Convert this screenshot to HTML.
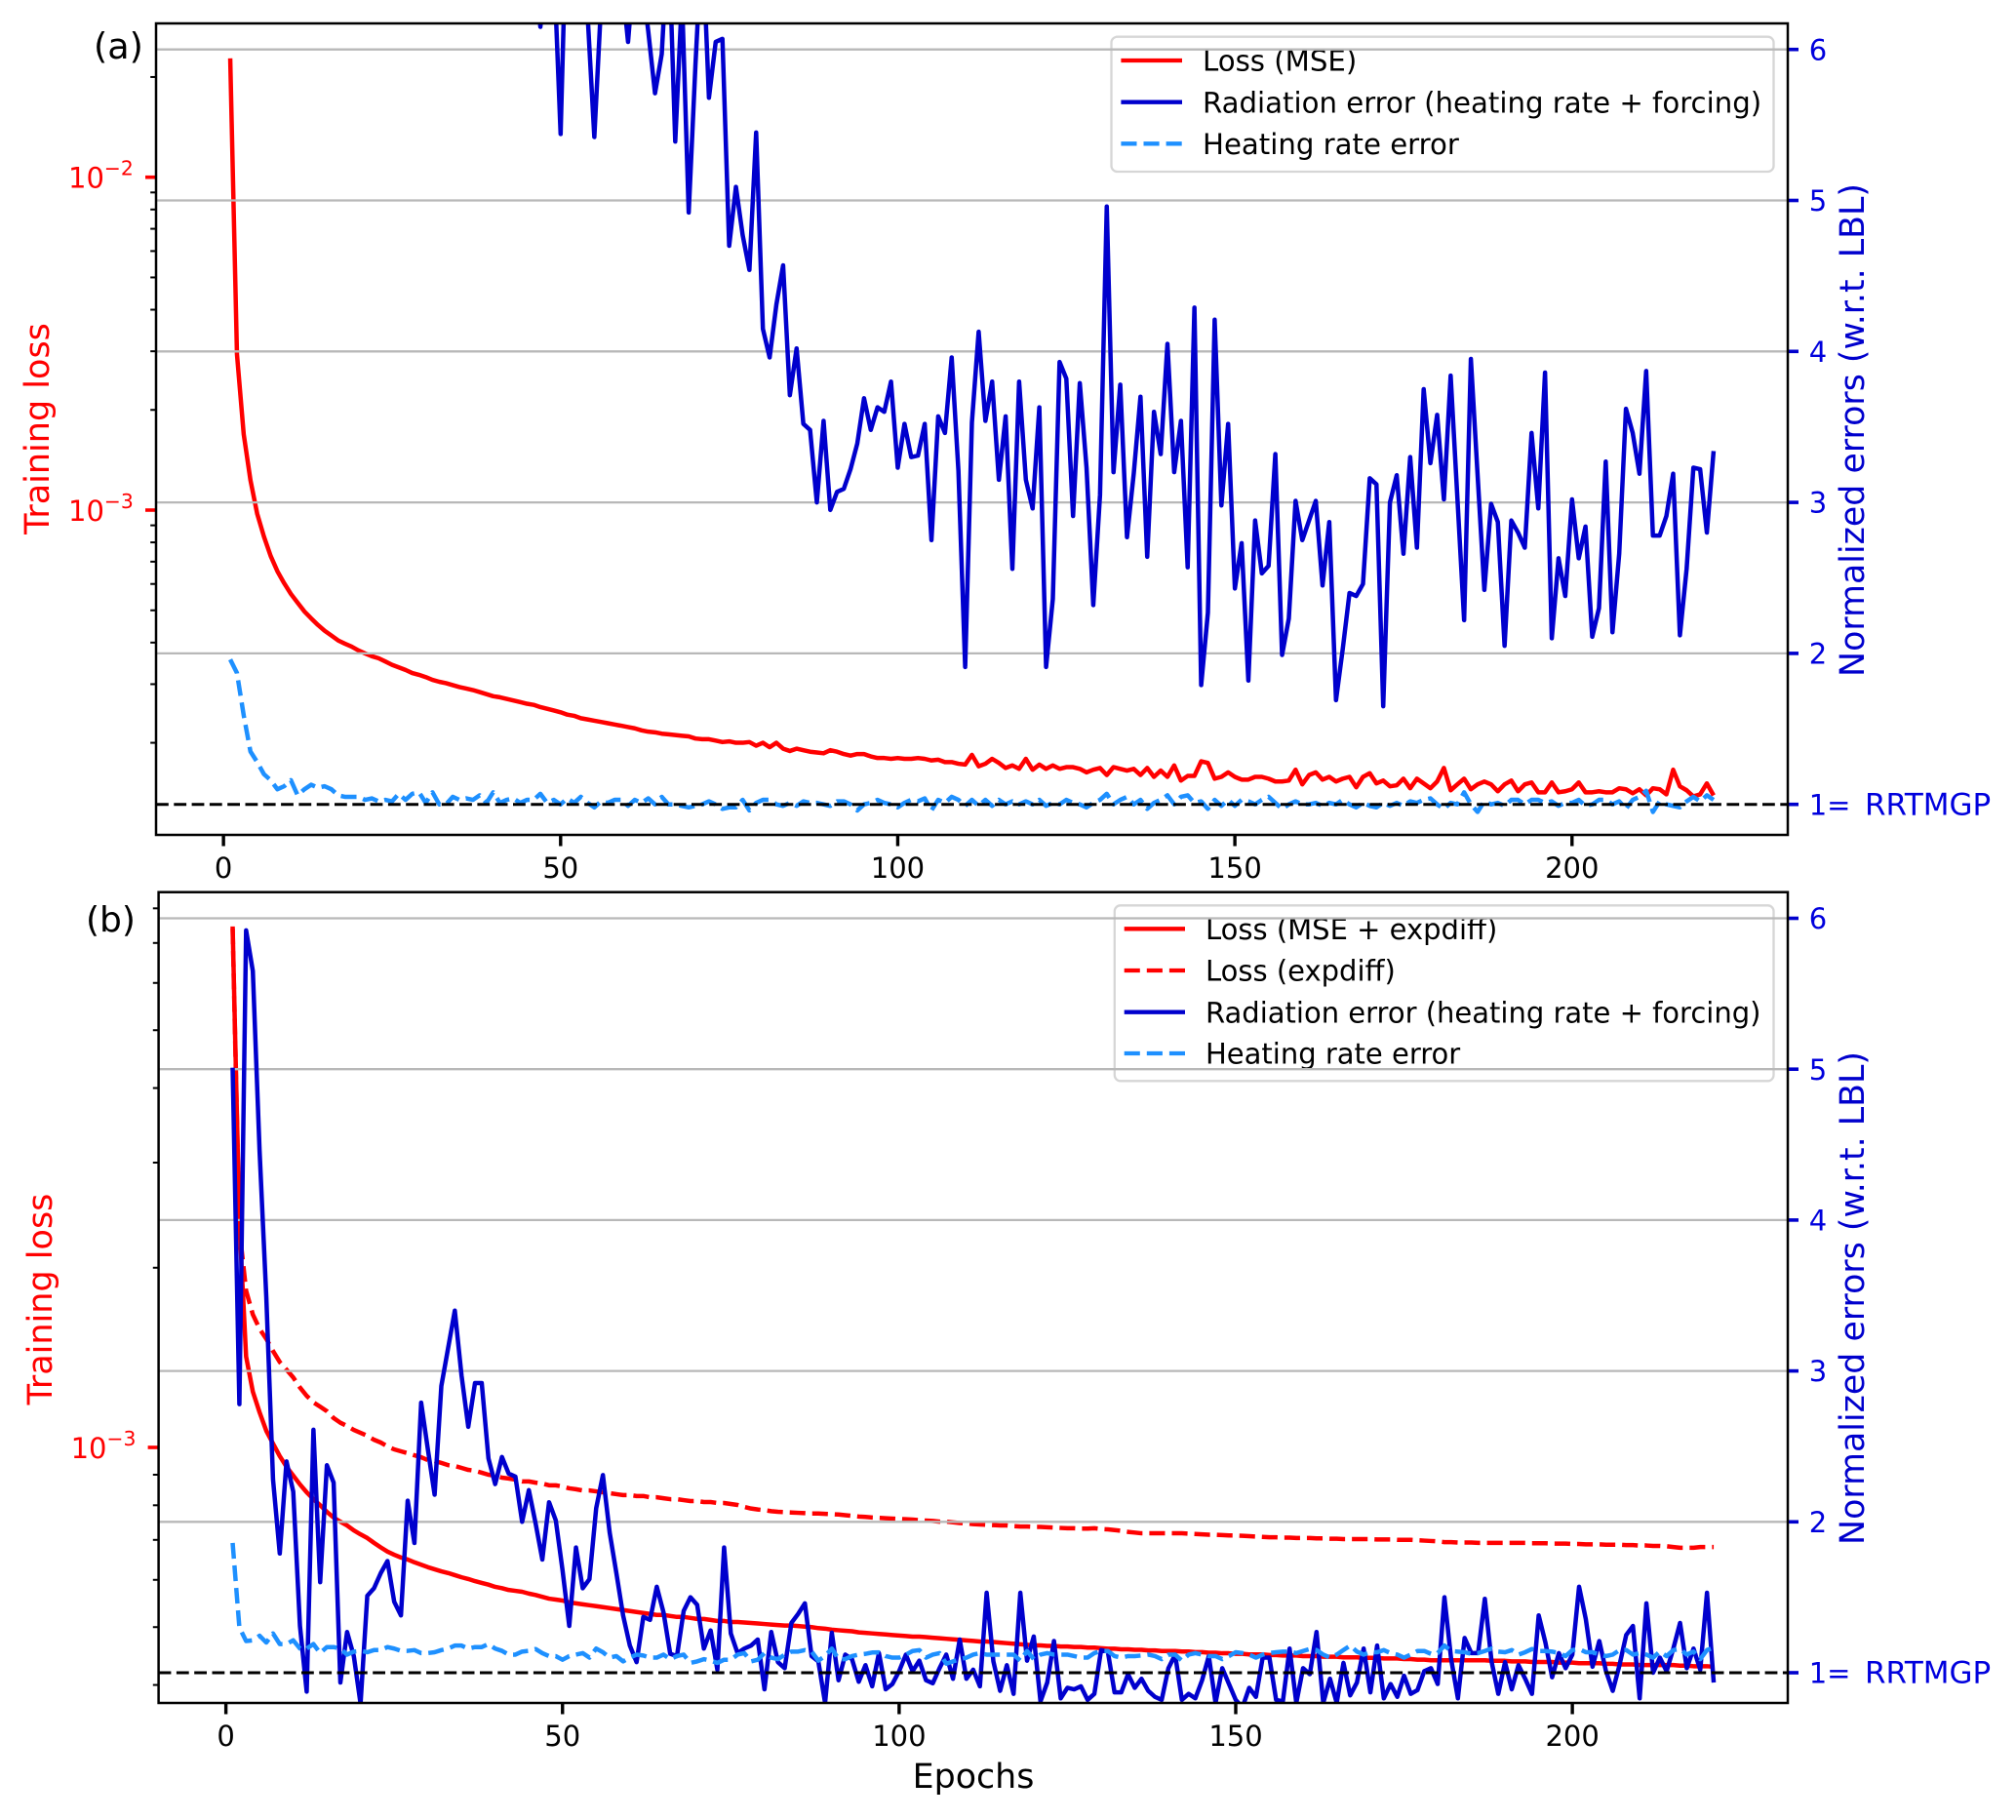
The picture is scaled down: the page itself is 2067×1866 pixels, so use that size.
<!DOCTYPE html>
<html lang="en">
<head>
<meta charset="utf-8">
<title>Training loss and normalized errors vs epochs</title>
<style>
  html, body { margin: 0; padding: 0; background: #ffffff; }
  svg { display: block; }
  text { font-family: "DejaVu Sans", "Liberation Sans", sans-serif; }
</style>
</head>
<body>
<svg id="figure" xmlns="http://www.w3.org/2000/svg" width="2067" height="1866" viewBox="0 0 2067 1866">
  <defs>
    <clipPath id="clip-a"><rect x="160" y="24" width="1673" height="832"/></clipPath>
    <clipPath id="clip-b"><rect x="162.6" y="914.7" width="1670.4" height="831.3"/></clipPath>
  </defs>
  <rect x="0" y="0" width="2067" height="1866" fill="#ffffff"/>

  <!-- Panel (a) -->
  <g id="panel-a">
    <g id="a-loss" clip-path="url(#clip-a)"></g>
    <g>
      <rect x="1139.5" y="37.7" width="679" height="138.3" rx="6" ry="6" fill="#ffffff" fill-opacity="0.8" stroke="#cccccc" stroke-opacity="0.8" stroke-width="2.3"/>
      <line x1="1149.4" x2="1212" y1="62" y2="62" stroke="#ff0000" stroke-width="4.35"/>
      <text x="1233" y="72.6" font-size="29.2" fill="#000000">Loss (MSE)</text>
      <line x1="1149.4" x2="1212" y1="104.7" y2="104.7" stroke="#0000cd" stroke-width="4.35"/>
      <text x="1233" y="115.3" font-size="29.2" fill="#000000">Radiation error (heating rate + forcing)</text>
      <line x1="1149.4" x2="1212" y1="147.3" y2="147.3" stroke="#1e90ff" stroke-width="4.35" stroke-dasharray="16.1 7"/>
      <text x="1233" y="158" font-size="29.2" fill="#000000">Heating rate error</text>
    </g>
    <g id="a-grid"></g>
    <g id="a-err" clip-path="url(#clip-a)"></g>
    <g id="a-axes"></g>
    <text x="96" y="60" font-size="36.5" fill="#000000">(a)</text>
    <text transform="translate(50 439.5) rotate(-90)" text-anchor="middle" font-size="35" fill="#ff0000">Training loss</text>
    <text transform="translate(1911 441) rotate(-90)" text-anchor="middle" font-size="34.8" fill="#0000cd">Normalized errors (w.r.t. LBL)</text>
  </g>

  <!-- Panel (b) -->
  <g id="panel-b">
    <g id="b-loss" clip-path="url(#clip-b)"></g>
    <g>
      <rect x="1142.8" y="928.3" width="675.7" height="180" rx="6" ry="6" fill="#ffffff" fill-opacity="0.8" stroke="#cccccc" stroke-opacity="0.8" stroke-width="2.3"/>
      <line x1="1152.7" x2="1215" y1="952.3" y2="952.3" stroke="#ff0000" stroke-width="4.35"/>
      <text x="1236" y="963" font-size="29" fill="#000000">Loss (MSE + expdiff)</text>
      <line x1="1152.7" x2="1215" y1="995" y2="995" stroke="#ff0000" stroke-width="4.35" stroke-dasharray="16.1 7"/>
      <text x="1236" y="1005.7" font-size="29" fill="#000000">Loss (expdiff)</text>
      <line x1="1152.7" x2="1215" y1="1037.7" y2="1037.7" stroke="#0000cd" stroke-width="4.35"/>
      <text x="1236" y="1048.3" font-size="29" fill="#000000">Radiation error (heating rate + forcing)</text>
      <line x1="1152.7" x2="1215" y1="1080" y2="1080" stroke="#1e90ff" stroke-width="4.35" stroke-dasharray="16.1 7"/>
      <text x="1236" y="1090.7" font-size="29" fill="#000000">Heating rate error</text>
    </g>
    <g id="b-grid"></g>
    <g id="b-err" clip-path="url(#clip-b)"></g>
    <g id="b-axes"></g>
    <text x="88" y="955" font-size="36" fill="#000000">(b)</text>
    <text transform="translate(53 1332) rotate(-90)" text-anchor="middle" font-size="35" fill="#ff0000">Training loss</text>
    <text transform="translate(1911 1331) rotate(-90)" text-anchor="middle" font-size="34.8" fill="#0000cd">Normalized errors (w.r.t. LBL)</text>
    <text x="998" y="1833" text-anchor="middle" font-size="34.8" fill="#000000">Epochs</text>
  </g>
</svg>

<script>
// ---------- Shared categories and tick labels ----------
const xTickValues = [0, 50, 100, 150, 200];
const rightTickValues = [1, 2, 3, 4, 5, 6];
const rightTickLabels = ['1= RRTMGP', '2', '3', '4', '5', '6'];
const referenceValue = [1];

// Log-axis ticks: majors are decade exponents; minors are raw loss values
const leftMajorExponentsA = [-3, -2];
const leftMinorValuesA = [2e-4, 3e-4, 4e-4, 5e-4, 6e-4, 7e-4, 8e-4, 9e-4, 2e-3, 3e-3, 4e-3, 5e-3, 6e-3, 7e-3, 8e-3, 9e-3, 2e-2];
const leftMajorExponentsB = [-3];
const leftMinorValuesB = [4e-4, 5e-4, 6e-4, 7e-4, 8e-4, 9e-4, 2e-3, 3e-3, 4e-3, 5e-3, 6e-3, 7e-3, 8e-3];

// ---------- Panel (a) series: epochs 1..221 ----------
// Loss (MSE), in units of 1e-4
const lossMseA = [
227.5,29.4,16.9,12.3,9.75,8.33,7.28,6.55,6.03,5.60,
5.27,4.96,4.73,4.52,4.34,4.20,4.06,3.97,3.89,3.79,
3.71,3.64,3.59,3.51,3.43,3.37,3.31,3.24,3.20,3.15,
3.09,3.05,3.02,2.98,2.94,2.91,2.88,2.84,2.80,2.76,
2.74,2.71,2.68,2.65,2.62,2.60,2.56,2.53,2.50,2.47,
2.43,2.41,2.37,2.35,2.33,2.31,2.29,2.27,2.25,2.23,
2.21,2.18,2.16,2.15,2.13,2.12,2.11,2.10,2.09,2.06,
2.05,2.05,2.03,2.01,2.02,2.00,2.00,2.01,1.96,2.00,
1.94,2.00,1.92,1.89,1.92,1.90,1.88,1.87,1.86,1.90,
1.88,1.85,1.83,1.85,1.85,1.82,1.80,1.80,1.79,1.80,
1.79,1.79,1.80,1.79,1.77,1.78,1.75,1.75,1.73,1.72,
1.84,1.70,1.73,1.79,1.74,1.68,1.71,1.67,1.79,1.66,
1.72,1.67,1.71,1.67,1.69,1.69,1.67,1.63,1.66,1.68,
1.60,1.69,1.67,1.65,1.67,1.60,1.68,1.58,1.65,1.58,
1.71,1.54,1.59,1.59,1.76,1.74,1.56,1.58,1.63,1.58,
1.55,1.55,1.58,1.58,1.56,1.53,1.53,1.54,1.66,1.50,
1.60,1.63,1.55,1.58,1.53,1.56,1.58,1.47,1.58,1.62,
1.51,1.54,1.48,1.49,1.56,1.46,1.56,1.51,1.46,1.53,
1.68,1.44,1.50,1.56,1.45,1.50,1.53,1.50,1.43,1.50,
1.54,1.43,1.50,1.52,1.42,1.42,1.52,1.42,1.43,1.45,
1.52,1.42,1.42,1.43,1.42,1.42,1.46,1.45,1.41,1.45,
1.39,1.46,1.45,1.40,1.66,1.48,1.44,1.38,1.40,1.51,1.39
];
// Radiation error (heating rate + forcing), normalized
const radiationErrorA = [
12.4,11.0,10.6,10.2,9.9,9.7,9.5,9.3,9.2,9.0,
8.9,8.8,8.7,8.6,8.5,8.4,8.3,8.2,8.1,8.0,
7.9,7.9,7.8,7.8,7.7,7.6,7.6,7.5,7.5,7.4,
7.4,7.3,7.3,7.2,7.2,7.1,7.1,7.0,7.0,6.9,
6.9,6.8,6.8,6.7,6.7,6.6,6.15,6.6,6.57,5.44,
7.1,6.9,6.6,6.23,5.42,6.3,6.6,6.7,6.5,6.05,
6.6,6.5,6.12,5.71,5.97,6.78,5.39,6.35,4.92,5.9,
6.77,5.68,6.05,6.07,4.70,5.09,4.77,4.54,5.45,4.15,
3.96,4.31,4.57,3.71,4.02,3.52,3.48,3.0,3.54,2.95,
3.07,3.09,3.22,3.39,3.69,3.48,3.63,3.60,3.80,3.23,
3.52,3.30,3.31,3.52,2.75,3.57,3.46,3.96,3.21,1.91,
3.53,4.13,3.54,3.80,3.15,3.57,2.56,3.80,3.15,2.96,
3.63,1.91,2.36,3.93,3.82,2.91,3.79,3.23,2.32,3.05,
4.96,3.20,3.78,2.77,3.19,3.70,2.64,3.60,3.32,4.05,
3.20,3.54,2.57,4.29,1.79,2.27,4.21,2.98,3.52,2.43,
2.73,1.82,2.88,2.53,2.58,3.32,1.99,2.23,3.01,2.75,
2.88,3.01,2.45,2.87,1.69,2.03,2.40,2.38,2.46,3.16,
3.12,1.65,3.0,3.18,2.66,3.30,2.70,3.75,3.26,3.58,
3.02,3.84,3.03,2.22,3.95,3.18,2.42,2.99,2.87,2.05,
2.88,2.80,2.70,3.46,2.96,3.86,2.10,2.63,2.38,3.02,
2.63,2.84,2.11,2.30,3.27,2.14,2.66,3.62,3.46,3.19,
3.87,2.78,2.78,2.91,3.19,2.12,2.56,3.23,3.22,2.80,3.34
];
// Heating rate error, normalized
const heatingErrorA = [
1.96,1.87,1.59,1.35,1.28,1.20,1.16,1.10,1.12,1.16,
1.06,1.10,1.13,1.11,1.12,1.10,1.06,1.05,1.05,1.05,
1.03,1.04,1.02,1.03,1.02,1.07,1.03,1.07,1.08,1.01,
1.08,1.0,1.0,1.05,1.03,1.04,1.03,1.06,1.01,1.08,
1.01,1.03,1.04,1.01,1.03,1.03,1.07,1.01,1.03,1.0,
1.04,1.01,1.05,1.01,.98,1.02,1.01,1.03,1.03,.99,
1.03,1.01,1.04,1.0,1.05,1.0,1.0,.99,.98,.99,
1.0,1.02,1.0,.97,.98,.98,1.03,.96,1.01,1.03,
1.03,1.0,.99,1.01,.99,1.02,1.01,1.01,1.0,.99,
1.02,1.02,1.0,.96,1.0,1.01,1.03,1.01,1.0,.98,
1.01,1.03,1.02,1.04,.96,1.03,1.01,1.05,1.03,.99,
1.03,.99,1.03,.99,1.03,1.0,1.02,1.0,1.02,1.0,
1.03,.99,1.01,1.0,1.03,1.01,1.0,.98,1.01,1.03,
1.07,1.0,1.03,1.05,1.0,1.03,.97,1.01,1.03,1.06,
1.0,1.05,1.06,1.01,1.02,.97,1.03,.99,1.03,.99,
1.03,1.02,1.0,1.03,1.05,1.01,.97,1.0,1.02,1.0,
1.0,1.01,.99,1.01,1.0,1.03,1.0,.98,1.01,.99,
.98,1.01,.99,1.01,.99,1.02,1.01,1.03,1.04,1.0,
.97,1.01,1.0,1.08,1.0,.95,1.02,1.0,1.01,.99,
1.03,1.03,1.0,1.03,1.03,1.01,1.02,.99,1.01,1.01,
1.03,.99,1.0,1.03,1.03,1.0,1.02,.97,1.03,1.05,
1.09,.95,1.02,1.0,.99,.98,1.02,1.05,1.02,1.06,1.03
];

// ---------- Panel (b) series: epochs 1..221 ----------
// Loss (MSE + expdiff), in units of 1e-3
const lossTotalB = [
7.46,2.38,1.42,1.24,1.145,1.066,1.015,.967,.928,.897,
.867,.841,.819,.80,.78,.763,.751,.74,.726,.715,
.705,.692,.68,.669,.661,.654,.649,.642,.636,.63,
.625,.62,.616,.611,.606,.602,.597,.593,.589,.584,
.581,.577,.575,.573,.569,.566,.562,.558,.556,.554,
.55,.548,.546,.544,.542,.54,.538,.536,.534,.532,
.53,.528,.526,.524,.524,.522,.52,.52,.518,.516,
.516,.514,.512,.512,.51,.51,.509,.508,.507,.506,
.505,.504,.503,.503,.502,.501,.5,.498,.497,.495,
.494,.493,.492,.49,.489,.488,.487,.486,.485,.484,
.483,.482,.482,.481,.48,.479,.478,.477,.476,.475,
.474,.473,.473,.472,.471,.47,.469,.468,.467,.466,
.466,.465,.465,.464,.464,.463,.463,.462,.462,.461,
.46,.46,.459,.459,.458,.458,.457,.457,.456,.456,
.456,.455,.455,.454,.454,.453,.453,.452,.452,.451,
.451,.45,.45,.45,.449,.449,.448,.448,.448,.447,
.447,.447,.446,.446,.446,.445,.445,.445,.444,.444,
.444,.443,.443,.443,.442,.442,.441,.441,.44,.44,
.44,.44,.44,.44,.44,.44,.44,.439,.439,.439,
.438,.438,.438,.437,.437,.437,.437,.436,.436,.436,
.435,.435,.435,.435,.434,.434,.433,.433,.433,.432,
.432,.432,.432,.432,.432,.431,.431,.43,.43,.43,.429
];
// Loss (expdiff), in units of 1e-3
const lossExpdiffB = [
7.4,2.32,1.83,1.67,1.58,1.52,1.45,1.39,1.35,1.31,
1.26,1.22,1.19,1.17,1.15,1.12,1.10,1.086,1.07,1.058,
1.046,1.03,1.019,1.004,.9925,.985,.978,.97,.963,.952,
.949,.942,.934,.931,.924,.917,.914,.907,.90,.897,
.89,.887,.883,.877,.877,.873,.87,.864,.864,.86,
.854,.851,.847,.847,.844,.841,.838,.835,.832,.832,
.829,.829,.825,.825,.822,.819,.819,.816,.813,.813,
.81,.81,.807,.807,.804,.801,.795,.79,.787,.785,
.782,.78,.779,.778,.777,.776,.775,.775,.774,.773,
.772,.77,.768,.766,.765,.763,.762,.761,.76,.759,
.758,.757,.755,.754,.753,.751,.751,.749,.747,.746,
.744,.743,.742,.741,.74,.74,.738,.737,.737,.736,
.736,.735,.734,.733,.732,.732,.731,.731,.732,.73,
.729,.727,.725,.722,.72,.718,.718,.718,.718,.718,
.718,.718,.717,.716,.715,.714,.714,.713,.712,.712,
.711,.71,.709,.708,.707,.707,.706,.706,.705,.705,
.705,.704,.704,.703,.703,.702,.702,.702,.702,.702,
.701,.701,.701,.7,.7,.7,.699,.698,.697,.696,
.694,.694,.693,.693,.693,.692,.692,.692,.692,.692,
.692,.692,.692,.691,.691,.691,.69,.69,.69,.689,
.689,.688,.688,.688,.687,.687,.687,.686,.686,.685,
.685,.684,.684,.683,.681,.679,.679,.679,.681,.681,.681
];
// Radiation error, normalized
const radiationErrorB = [
5.01,2.78,5.92,5.65,4.46,3.49,2.28,1.79,2.40,2.20,
1.31,.875,2.61,1.60,2.375,2.26,.935,1.27,1.11,.795,
1.51,1.56,1.66,1.74,1.47,1.38,2.14,1.86,2.79,2.48,
2.18,2.90,3.15,3.40,2.97,2.63,2.92,2.92,2.42,2.25,
2.43,2.32,2.30,2.0,2.21,1.99,1.75,2.13,2.01,1.68,
1.31,1.83,1.56,1.62,2.09,2.31,1.93,1.66,1.38,1.18,
1.07,1.37,1.35,1.57,1.40,1.125,1.11,1.41,1.50,1.45,
1.16,1.28,1.02,1.83,1.26,1.13,1.16,1.18,1.22,.89,
1.27,1.07,1.03,1.33,1.39,1.46,1.11,1.075,.80,1.265,
.95,1.12,1.09,.94,1.05,.91,1.13,.89,.925,1.01,
1.12,1.01,1.08,.95,.93,1.03,1.12,.96,1.22,.96,
1.02,.91,1.53,1.075,.88,1.05,.86,1.53,1.08,1.24,
.81,.935,1.21,.83,.90,.89,.91,.82,.86,1.15,
1.14,.87,.87,.99,.90,.96,.88,.84,.82,1.03,
1.12,.82,.86,.83,.95,1.11,.80,1.03,.925,.82,
.77,.90,.84,1.10,1.10,.82,.81,1.16,.80,1.03,
.99,1.27,.80,.96,.80,1.065,.85,.935,1.16,.87,
1.18,.83,.925,.84,.98,.86,.885,1.01,1.03,.925,
1.50,1.09,.83,1.23,1.13,1.13,1.49,1.075,.86,1.07,
.89,1.05,.96,.86,1.38,1.20,.97,1.13,1.03,1.12,
1.57,1.355,1.04,1.21,1.01,.88,1.05,1.25,1.31,.83,
1.46,1.0,1.10,1.01,1.16,1.33,1.03,1.16,1.02,1.53,.935
];
// Heating rate error, normalized
const heatingErrorB = [
1.86,1.30,1.21,1.215,1.245,1.20,1.26,1.19,1.19,1.215,
1.16,1.16,1.19,1.13,1.17,1.17,1.16,1.12,1.14,1.145,
1.136,1.15,1.15,1.17,1.16,1.145,1.145,1.15,1.13,1.13,
1.136,1.15,1.16,1.18,1.18,1.16,1.17,1.17,1.19,1.16,
1.145,1.12,1.12,1.14,1.145,1.157,1.13,1.11,1.11,1.086,
1.11,1.12,1.13,1.10,1.16,1.136,1.10,1.11,1.075,1.10,
1.12,1.114,1.10,1.10,1.12,1.09,1.11,1.12,1.065,1.075,
1.09,1.08,1.065,1.086,1.086,1.12,1.13,1.075,1.086,1.13,
1.10,1.09,1.12,1.14,1.14,1.15,1.14,1.08,1.11,1.16,
1.09,1.09,1.11,1.12,1.125,1.134,1.135,1.11,1.10,1.10,
1.12,1.144,1.15,1.10,1.12,1.13,1.06,1.075,1.09,1.10,
1.12,1.13,1.12,1.12,1.12,1.12,1.12,1.08,1.144,1.09,
1.12,1.13,1.12,1.12,1.12,1.11,1.10,1.10,1.13,1.144,
1.144,1.11,1.10,1.11,1.11,1.114,1.12,1.11,1.09,1.12,
1.12,1.08,1.12,1.13,1.12,1.11,1.11,1.09,1.11,1.136,
1.13,1.12,1.10,1.12,1.13,1.136,1.14,1.14,1.13,1.144,
1.157,1.15,1.12,1.10,1.12,1.15,1.18,1.14,1.12,1.136,
1.136,1.15,1.13,1.12,1.10,1.12,1.144,1.144,1.125,1.13,
1.18,1.144,1.14,1.136,1.125,1.13,1.144,1.16,1.14,1.136,
1.15,1.12,1.136,1.157,1.144,1.144,1.14,1.13,1.11,1.15,
1.157,1.136,1.136,1.12,1.11,1.12,1.15,1.15,1.12,1.13,
1.12,1.10,1.14,1.11,1.15,1.157,1.12,1.14,1.09,1.15,1.166
];

// ---------- Drawing ----------
const NS = 'http://www.w3.org/2000/svg';
const RED = '#ff0000', BLUE = '#0000cd', SKY = '#1e90ff';
const LINE_WIDTH = 4.5;
const DASH = '16.1 7';

function shape(parent, tag, attrs) {
  const el = document.createElementNS(NS, tag);
  for (const k in attrs) { el.setAttribute(k, attrs[k]); }
  parent.appendChild(el);
  return el;
}

function seriesPath(parent, values, unit, xFn, yFn, color, dash, name) {
  let d = '';
  values.forEach(function (v, i) {
    d += (i ? 'L' : 'M') + xFn(i + 1).toFixed(2) + ' ' + yFn(v * unit).toFixed(2);
  });
  const attrs = { d: d, fill: 'none', stroke: color, 'stroke-width': LINE_WIDTH, 'stroke-linejoin': 'round' };
  if (dash) { attrs['stroke-dasharray'] = dash; }
  const el = shape(parent, 'path', attrs);
  
  
}

function drawPanel(cfg) {
  const L = cfg.left, R = cfg.right, T = cfg.top, B = cfg.bottom;
  const xScale = function (e) { return L + (e - cfg.xMin) * (R - L) / (cfg.xMax - cfg.xMin); };
  const yRight = function (v) { return cfg.rightOne - (v - 1) * cfg.rightPerUnit; };
  const yLog = function (val) { return cfg.logAnchorY + (cfg.logAnchorExp - Math.log10(val)) * cfg.logPerDecade; };

  const lossG = document.getElementById(cfg.id + '-loss');
  cfg.loss.forEach(function (s) {
    seriesPath(lossG, s.values, s.unit, xScale, yLog, RED, s.dash, s.name);
  });

  const gridG = document.getElementById(cfg.id + '-grid');
  rightTickValues.slice(1).forEach(function (v) {
    const g = shape(gridG, 'line', { x1: L, x2: R, y1: yRight(v), y2: yRight(v), stroke: '#b8b8b8', 'stroke-width': 2.3 });
    
    
  });

  const errG = document.getElementById(cfg.id + '-err');
  seriesPath(errG, cfg.radiation, 1, xScale, yRight, BLUE, null, 'radiation-error-line');
  seriesPath(errG, cfg.heating, 1, xScale, yRight, SKY, DASH, 'heating-rate-error-line');
  const ref = shape(errG, 'line', { x1: L, x2: R, y1: yRight(referenceValue[0]), y2: yRight(referenceValue[0]), stroke: '#000000', 'stroke-width': 3, 'stroke-dasharray': '12.8 5.5' });
  
  

  const axG = document.getElementById(cfg.id + '-axes');

  xTickValues.forEach(function (v) {
    const t = shape(axG, 'line', { x1: xScale(v), x2: xScale(v), y1: B, y2: B + 11.5, stroke: '#000000', 'stroke-width': 3.4 });
    
    
    const lab = shape(axG, 'text', { x: xScale(v), y: B + 44, 'text-anchor': 'middle', 'font-size': 29, fill: '#000000' });
    
    
    lab.textContent = String(v);
  });

  cfg.minorTicks.forEach(function (v) {
    const t = shape(axG, 'line', { x1: L - 5.8, x2: L, y1: yLog(v), y2: yLog(v), stroke: '#000000', 'stroke-width': 2 });
    
    
  });

  cfg.majorExponents.forEach(function (exp) {
    const y = yLog(Math.pow(10, exp));
    const t = shape(axG, 'line', { x1: L - 11, x2: L, y1: y, y2: y, stroke: RED, 'stroke-width': 3.6 });
    
    
    const lab = shape(axG, 'text', { x: L - 90, y: y + 11, 'font-size': 29, fill: RED });
    
    
    lab.textContent = '10';
    const sup = shape(lab, 'tspan', { dy: -13, 'font-size': 20.3 });
    
    
    sup.textContent = '\u2212' + String(Math.abs(exp));
  });

  rightTickValues.forEach(function (v, i) {
    const y = yRight(v);
    const t = shape(axG, 'line', { x1: R, x2: R + 11, y1: y, y2: y, stroke: BLUE, 'stroke-width': 3.6 });
    
    
    const lab = shape(axG, 'text', { x: R + 21.7, y: y + 10.6, 'font-size': 29, fill: '#0000dd' });
    
    
    const parts = rightTickLabels[i].split(' ');
    lab.textContent = parts[0];
    if (parts[1]) {
      const extra = shape(lab, 'tspan', { x: R + 79, 'font-size': 31 });
      
      
      extra.textContent = parts[1];
    }
  });

  const frame = shape(axG, 'rect', { x: L, y: T, width: R - L, height: B - T, fill: 'none', stroke: '#000000', 'stroke-width': 2.5 });
  
  
}

drawPanel({
  id: 'a', left: 160, right: 1833, top: 24, bottom: 856, xMin: -10, xMax: 232,
  rightOne: 824.7, rightPerUnit: 154.8,
  logAnchorY: 181.7, logAnchorExp: -2, logPerDecade: 341.3,
  minorTicks: leftMinorValuesA, majorExponents: leftMajorExponentsA,
  loss: [{ values: lossMseA, unit: 1e-4, dash: null, name: 'loss-mse-line' }],
  radiation: radiationErrorA, heating: heatingErrorA
});

drawPanel({
  id: 'b', left: 162.6, right: 1833, top: 914.7, bottom: 1746, xMin: -10, xMax: 232,
  rightOne: 1715, rightPerUnit: 154.7,
  logAnchorY: 1484, logAnchorExp: -3, logPerDecade: 612,
  minorTicks: leftMinorValuesB, majorExponents: leftMajorExponentsB,
  loss: [
    { values: lossTotalB, unit: 1e-3, dash: null, name: 'loss-mse-expdiff-line' },
    { values: lossExpdiffB, unit: 1e-3, dash: DASH, name: 'loss-expdiff-line' }
  ],
  radiation: radiationErrorB, heating: heatingErrorB
});
</script>
</body>
</html>
